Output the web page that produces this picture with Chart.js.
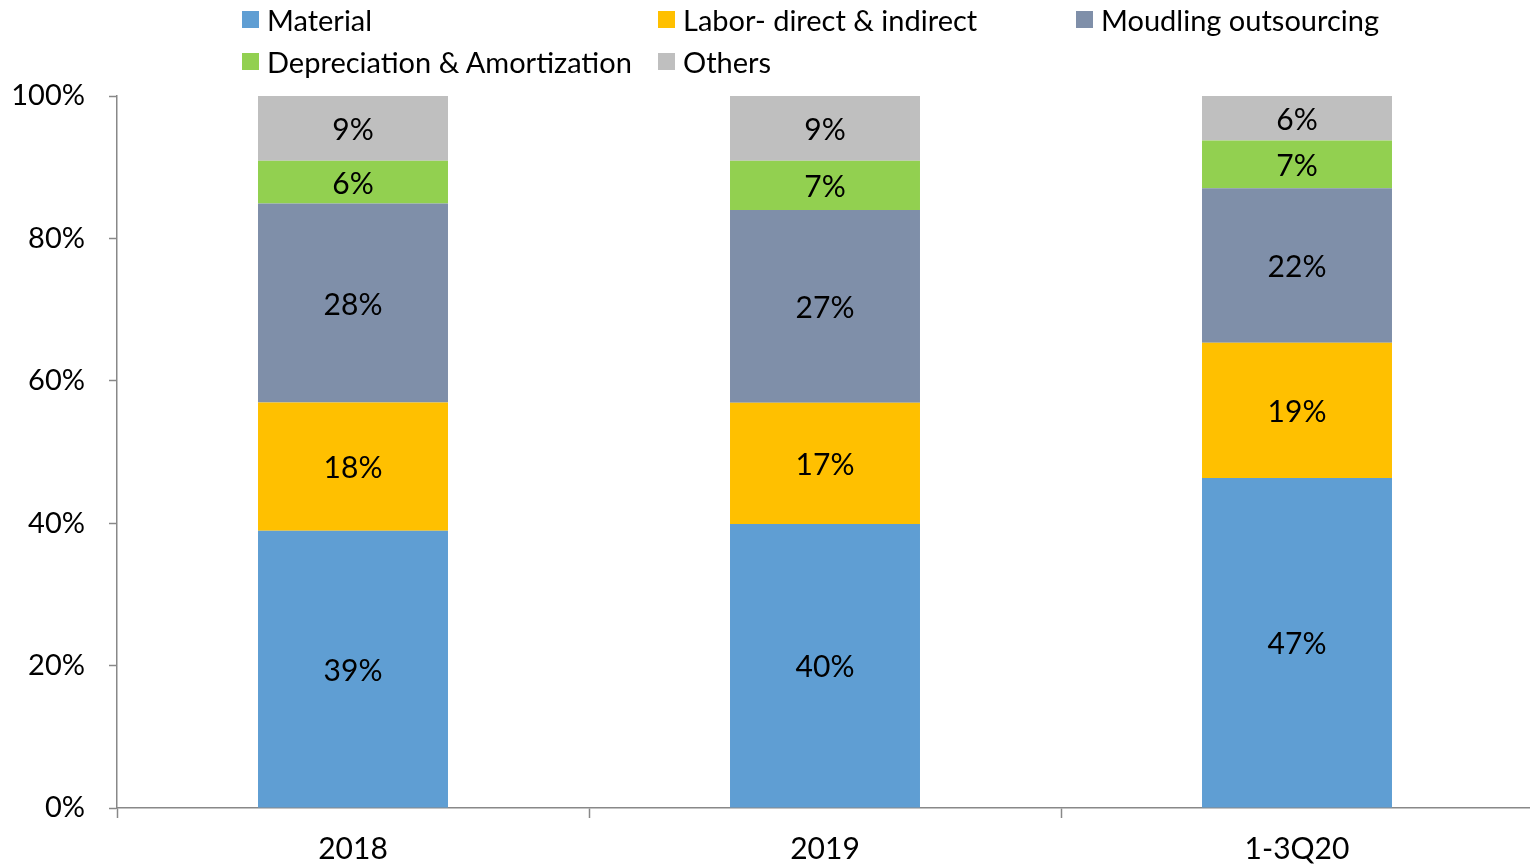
<!DOCTYPE html>
<html>
<head>
<meta charset="utf-8">
<script src="https://cdn.jsdelivr.net/npm/chart.js@4"></script>
<style>
  html, body { margin: 0; padding: 0; background: #fff; overflow: hidden; }
  #wrap { position: relative; width: 1536px; height: 864px; }
  #chart { position: absolute; left: 0; top: 0; }
  .lg { position: absolute; display: flex; align-items: center; font-family: Lato, "Open Sans", sans-serif; font-size: 29px; color: #000; white-space: nowrap; }
  .lg .sw { width: 17px; height: 17px; margin-right: 8px; }
</style>
</head>
<body>
<div id="wrap">
  <canvas id="chart" width="1536" height="864"></canvas>
</div>
<script>
const categories = ["2018", "2019", "1-3Q20"];
const seriesNames = ["Material", "Labor- direct & indirect", "Moudling outsourcing", "Depreciation & Amortization", "Others"];
const material = [38.9, 39.9, 46.8];
const labor = [18.0, 17.0, 19.2];
const moulding = [27.9, 27.1, 21.9];
const depreciation = [6.0, 6.9, 6.8];
const others = [9.1, 9.1, 6.3];
const yTicks = [0, 20, 40, 60, 80, 100];
const colors = ["#5F9ED3", "#FFC000", "#7F8FA9", "#92D050", "#BFBFBF"];

const rawSeries = [material, labor, moulding, depreciation, others];
const totals = categories.map((_, i) => rawSeries.reduce((s, a) => s + a[i], 0));

const datasets = rawSeries.map((arr, k) => ({
  label: seriesNames[k],
  raw: arr,
  data: arr.map((v, i) => v / totals[i] * 100),
  backgroundColor: colors[k],
  borderWidth: 0,
  categoryPercentage: 1,
  barPercentage: 0.4025
}));

const FONT = "Lato, 'Open Sans', sans-serif";

const labelPlugin = {
  id: "segLabels",
  afterDatasetsDraw(chart) {
    const ctx = chart.ctx;
    ctx.save();
    ctx.font = "30px " + FONT;
    ctx.fillStyle = "#000";
    ctx.textAlign = "center";
    ctx.textBaseline = "middle";
    chart.data.datasets.forEach((ds, di) => {
      chart.getDatasetMeta(di).data.forEach((bar, i) => {
        const yc = (bar.y + bar.base) / 2 + 2;
        ctx.fillText(Math.round(ds.raw[i]) + "%", bar.x, yc);
      });
    });
    ctx.restore();
  }
};

const chart = new Chart(document.getElementById("chart"), {
  type: "bar",
  data: { labels: categories, datasets },
  plugins: [labelPlugin],
  options: {
    responsive: false,
    animation: false,
    layout: { padding: { top: 96, right: 3, left: 0, bottom: 0 } },
    plugins: { legend: { display: false }, tooltip: { enabled: false } },
    scales: {
      x: {
        stacked: true,
        offset: true,
        grid: { offset: true, drawOnChartArea: false, drawTicks: true, tickLength: 10, color: "#888", tickColor: "#888", tickWidth: 1.5 },
        border: { color: "#888", width: 1.5 },
        ticks: { color: "#000", font: { family: FONT, size: 30 }, padding: 13 },
        afterFit(s) { s.height = 56; }
      },
      y: {
        stacked: true,
        min: 0, max: 100,
        afterBuildTicks(s) { s.ticks = yTicks.map(v => ({ value: v })); },
        grid: { drawOnChartArea: false, drawTicks: true, tickLength: 8, color: "#888", tickColor: "#888", tickWidth: 1.5 },
        border: { color: "#888", width: 1.5 },
        ticks: { color: "#000", font: { family: FONT, size: 29 }, padding: 24, callback: v => v + "%" },
        afterFit(s) { s.width = 117; }
      }
    }
  }
});

// HTML legend built from the datasets
const legendPos = [[242, 19], [658, 19], [1076, 19], [242, 61], [658, 61]];
chart.data.datasets.forEach((ds, k) => {
  const d = document.createElement("div");
  d.className = "lg";
  d.style.left = legendPos[k][0] + "px";
  d.style.top = (legendPos[k][1] - 18) + "px";
  d.style.height = "36px";
  const sw = document.createElement("span");
  sw.className = "sw";
  sw.style.background = ds.backgroundColor;
  const t = document.createElement("span");
  t.textContent = ds.label;
  d.appendChild(sw); d.appendChild(t);
  document.getElementById("wrap").appendChild(d);
});
</script>
</body>
</html>
